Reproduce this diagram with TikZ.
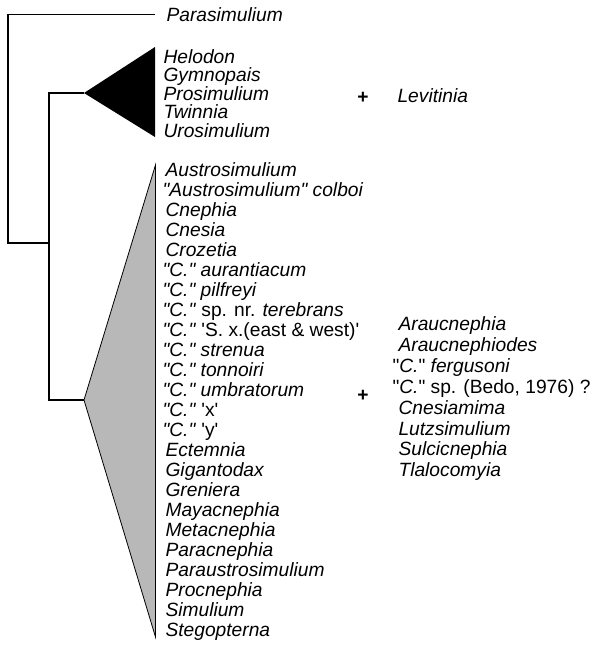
\documentclass[tikz,border=0pt]{standalone}
\usepackage{fontspec}
\setmainfont{Liberation Sans}[Ligatures=TeXOff]
\usetikzlibrary{positioning}
\tikzset{every picture/.style={line width=1.1pt}}

\begin{document}
\begin{tikzpicture}[
    x=1pt, y=-1pt,
    taxon/.style={anchor=base west,inner sep=0pt,font=\fontsize{19.2}{20}\selectfont\itshape},
    plus/.style={inner sep=0pt,font=\fontsize{19.2}{20}\selectfont\bfseries},
    branch/.style={black,line width=1.1pt},
    clade/.style={fill=black},
    grade/.style={draw=black,line width=0.8pt,fill=black!28}
]
    \useasboundingbox (0,0) rectangle (604,645);

    % Parasimulium
    \node[taxon] (para) at (166,21.5) {Parasimulium};

    % Prosimuliini clade (black)
    \coordinate (capex) at (84,93);
    \fill[clade] (capex) -- (155,47) -- (155,137) -- cycle;
    \node[taxon] (helo) at (163,63) {Helodon};
    \node[taxon] (gymn) at (163,81.5) {Gymnopais};
    \node[taxon] (pros) at (163,100) {Prosimulium};
    \node[taxon] (twin) at (163,118.5) {Twinnia};
    \node[taxon] (uros) at (163,137) {Urosimulium};
    \node[plus] (plusA) at (363,98) {+};
    \node[taxon] (levi) at (397,102) {Levitinia};

    % Simuliini grade (shaded)
    \coordinate (gapex) at (84,400);
    \filldraw[grade] (gapex) -- (155.5,165) -- (155.5,637) -- cycle;
    \node[taxon] (aust) at (165,176) {Austrosimulium};
    \node[taxon] (colb) at (162,196) {"Austrosimulium" colboi};
    \node[taxon] (cnep) at (165,216) {Cnephia};
    \node[taxon] (cnes) at (165,236) {Cnesia};
    \node[taxon] (croz) at (165,256) {Crozetia};
    \node[taxon] (aura) at (162,276) {"C." aurantiacum};
    \node[taxon] (pilf) at (162,296) {"C." pilfreyi};
    \node[taxon] (tere) at (162,316) {"C." \textup{sp. nr.} terebrans};
    \node[taxon] (sxew) at (162,336) {"C." \textup{'S. x.(east \& west)'}};
    \node[taxon] (stre) at (162,356) {"C." strenua};
    \node[taxon] (tonn) at (162,376) {"C." tonnoiri};
    \node[taxon] (umbr) at (162,396) {"C." umbratorum};
    \node[taxon] (cx) at (162,416) {"C." \textup{'x'}};
    \node[taxon] (cy) at (162,436) {"C." \textup{'y'}};
    \node[taxon] (ecte) at (165,456) {Ectemnia};
    \node[taxon] (giga) at (165,476) {Gigantodax};
    \node[taxon] (gren) at (165,496) {Greniera};
    \node[taxon] (maya) at (165,516) {Mayacnephia};
    \node[taxon] (meta) at (165,536) {Metacnephia};
    \node[taxon] (parc) at (165,556) {Paracnephia};
    \node[taxon] (paus) at (165,576) {Paraustrosimulium};
    \node[taxon] (proc) at (165,596) {Procnephia};
    \node[taxon] (simu) at (165,616) {Simulium};
    \node[taxon] (steg) at (165,636) {Stegopterna};

    % unplaced genera
    \node[plus] (plusB) at (363,396) {+};
    \node[taxon] (arau) at (398,330) {Araucnephia};
    \node[taxon] (arod) at (398,351) {Araucnephiodes};
    \node[taxon] (ferg) at (392,372) {\textup{"}C.\textup{"} fergusoni};
    \node[taxon] (bedo) at (392,393) {\textup{"}C.\textup{" sp. (Bedo, 1976) ?}};
    \node[taxon] (cnma) at (398,414) {Cnesiamima};
    \node[taxon] (lutz) at (398,435) {Lutzsimulium};
    \node[taxon] (sulc) at (398,455) {Sulcicnephia};
    \node[taxon] (tlal) at (398,476) {Tlalocomyia};

    % Branches
    \coordinate (root) at (8,243);
    \coordinate (inner) at (49,243);
    \draw[branch] ([xshift=-11pt]para.west) -| (root) -- (inner);
    \draw[branch] (capex) -| (inner) |- (gapex);
\end{tikzpicture}
\end{document}
